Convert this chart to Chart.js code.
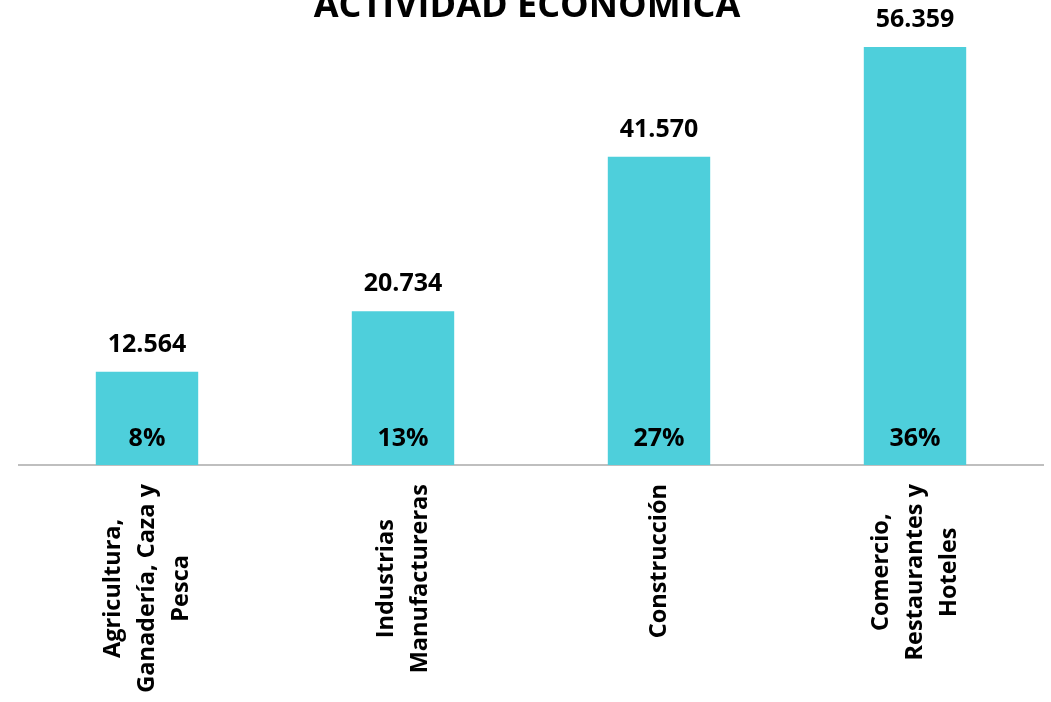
<!DOCTYPE html>
<html>
<head>
<meta charset="utf-8">
<script src="https://cdn.jsdelivr.net/npm/chart.js@4"></script>
<style>
  html, body { margin: 0; padding: 0; background: #ffffff; }
  #wrap { width: 1051px; height: 702px; }
</style>
</head>
<body>
<div id="wrap"><canvas id="bar-chart"></canvas></div>
<script>
var titleText = 'ACTIVIDAD ECONÓMICA';
var categories = [
  ['Agricultura,', 'Ganadería, Caza y', 'Pesca'],
  ['Industrias', 'Manufactureras'],
  ['Construcción'],
  ['Comercio,', 'Restaurantes y', 'Hoteles']
];
var empleos = [12564, 20734, 41570, 56359];
var porcentajes = [8, 13, 27, 36];

var fontFamily = '"Open Sans", "DejaVu Sans", sans-serif';

function formatMiles(n) {
  return String(n).replace(/\B(?=(\d{3})+(?!\d))/g, '.');
}

// etiquetas de valor, porcentaje, categorias y titulo
var labelsPlugin = {
  id: 'labelsPlugin',
  afterDatasetsDraw: function(chart) {
    var ctx = chart.ctx;
    var meta = chart.getDatasetMeta(0);
    var area = chart.chartArea;
    var xScale = chart.scales.x;
    ctx.save();
    ctx.fillStyle = '#000000';
    ctx.textAlign = 'center';
    ctx.textBaseline = 'middle';
    ctx.font = 'bold 25px ' + fontFamily;
    meta.data.forEach(function(bar, i) {
      ctx.fillText(formatMiles(empleos[i]), bar.x, bar.y - 27);
      ctx.fillText(porcentajes[i] + '%', bar.x, area.bottom - 26);
    });

    // categorias giradas, centradas entre lineas
    ctx.font = 'bold 23.5px ' + fontFamily;
    var lineH = 34;
    categories.forEach(function(lines, i) {
      var x = xScale.getPixelForValue(i);
      var maxW = 0;
      lines.forEach(function(l) { maxW = Math.max(maxW, ctx.measureText(l).width); });
      var cy = area.bottom + 19 + maxW / 2;
      ctx.save();
      ctx.translate(x, cy);
      ctx.rotate(-Math.PI / 2);
      lines.forEach(function(l, j) {
        var off = (j - (lines.length - 1) / 2) * lineH;
        ctx.fillText(l, 0, off);
      });
      ctx.restore();
    });

    // titulo (cortado arriba como en el original)
    ctx.font = 'bold 36px ' + fontFamily;
    ctx.textBaseline = 'alphabetic';
    ctx.fillText(titleText, (area.left + area.right) / 2 - 4, 17);
    ctx.restore();
  }
};

var ctx = document.getElementById('bar-chart').getContext('2d');
var myBarChart = new Chart(ctx, {
  type: 'bar',
  data: {
    labels: categories,
    datasets: [{
      data: empleos,
      backgroundColor: '#4ECFDB',
      barPercentage: 0.4,
      categoryPercentage: 1.0
    }]
  },
  options: {
    responsive: true,
    maintainAspectRatio: false,
    animation: false,
    layout: {
      padding: { top: 0, left: 19, right: 8, bottom: 237 }
    },
    scales: {
      x: {
        grid: { display: false, drawTicks: false },
        border: { display: true, color: '#BFBFBF', width: 2 },
        ticks: { display: false }
      },
      y: {
        display: false,
        min: 0,
        max: 62700
      }
    },
    plugins: {
      legend: { display: false },
      tooltip: { enabled: false }
    }
  },
  plugins: [labelsPlugin]
});
</script>
</body>
</html>
